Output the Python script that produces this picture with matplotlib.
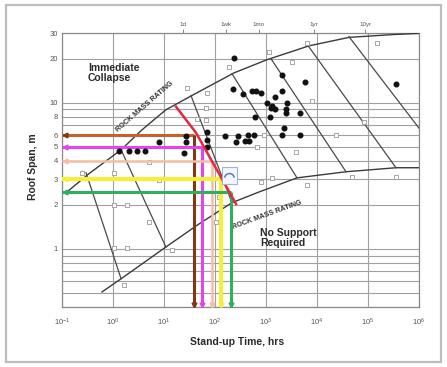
import matplotlib
matplotlib.use("Agg")
import matplotlib.pyplot as plt
from matplotlib.patches import Rectangle, Arc

plt.rcParams['font.family'] = ['Liberation Sans', 'DejaVu Sans']
plt.rcParams['mathtext.default'] = 'regular'

# ---------------- data (stand-up time in hours, roof span in m) ----------------
upper_t = [0.120, 0.338, 1.44, 3.71, 10.9, 38.7, 236, 1047, 6970, 42400, 324000, 1000000]
upper_s = [2.42, 3.27, 4.76, 6.53, 8.95, 11.4, 16.0, 19.7, 24.5, 28.0, 29.3, 29.8]

lower_t = [0.608, 1.44, 10.9, 48.5, 215, 730, 4055, 37070, 354000, 1000000]
lower_s = [0.507, 0.624, 1.03, 1.48, 2.07, 2.45, 3.06, 3.37, 3.59, 3.59]

# RMR contour lines: (start time, start span, end time, end span)
rmr_t0 = [0.296, 1.44, 33.8, 215, 1253, 6660, 42400]
rmr_s0 = [3.32, 4.76, 11.2, 15.8, 20.0, 24.6, 28.3]
rmr_t1 = [1.44, 10.9, 215, 4055, 37070, 354000, 1000000]
rmr_s1 = [0.624, 1.03, 2.07, 3.06, 3.37, 3.59, 6.7]

red_t = [17.2, 42.4, 258]
red_s = [9.39, 6.23, 2.03]

guide_span = [6.0, 5.0, 4.0, 3.0, 2.44]
guide_time = [38.7, 55.6, 87.3, 131, 206]
guide_hcol = ['#c4622c', '#e244ee', '#f6bca6', '#f3f03a', '#2fae5c']
guide_vcol = ['#7e3a18', '#e244ee', '#f6bca6', '#f3f03a', '#2fae5c']
guide_lw = [2.2, 2.2, 1.8, 3.0, 2.2]

dots_t = [236, 2060, 5820, 354000, 225, 354, 531, 637, 798, 1500, 2060, 1047, 1312,
          1253, 1500, 2581, 2466, 2466, 4645, 609, 1197, 2254, 157, 282, 444, 582,
          2060, 4645, 258, 387, 464, 69.7, 69.7, 69.7, 27, 27, 8, 1.31, 2.06, 2.96,
          4.24, 24.7]
dots_s = [20.3, 15.6, 13.9, 13.5, 12.5, 11.5, 12.1, 12.1, 11.7, 11.0, 12.1, 10.0, 9.5,
          9.2, 9.1, 10.0, 9.1, 8.5, 8.5, 8.0, 8.0, 6.7, 5.9, 5.9, 6.0, 6.0,
          6.0, 6.0, 5.4, 5.5, 5.5, 6.3, 5.6, 5.0, 5.9, 5.4, 5.4, 4.7, 4.7, 4.7,
          4.7, 4.5]

box_t = [150000, 6370, 1145, 3235, 7980, 83500, 23600, 914, 666, 3875, 188, 69.7,
         66.6, 66.6, 44.4, 28.2, 798, 1312, 6370, 0.247, 1.05, 1.05, 1.88, 5.08,
         5.08, 1.05, 1.88, 14.3, 1.64, 354000, 48600, 105, 120, 7.98]
box_s = [25.8, 25.8, 22.4, 19.1, 10.2, 7.41, 6.04, 6.04, 5.0, 4.62, 17.6, 11.7,
         9.25, 7.65, 7.77, 12.7, 2.88, 3.06, 2.74, 3.32, 3.32, 2.0, 2.0, 3.94,
         1.53, 1.02, 1.02, 0.98, 0.567, 3.11, 3.11, 1.53, 2.27, 2.97]

x_ticks = [1e-1, 1e0, 1e1, 1e2, 1e3, 1e4, 1e5, 1e6]
x_ticklabels = ['$10^{-1}$', '$10^{0}$', '$10^{1}$', '$10^{2}$', '$10^{3}$',
                '$10^{4}$', '$10^{5}$', '$10^{6}$']
y_ticks = [1, 2, 3, 4, 5, 6, 8, 10, 20, 30]
y_ticklabels = ['1', '2', '3', '4', '5', '6', '8', '10', '20', '30']
y_grid = [0.4, 0.5, 0.6, 0.7, 0.8, 0.9, 1, 2, 3, 4, 5, 6, 7, 8, 9, 10, 20, 30]
top_ticks = [24, 168, 720, 8760, 87600]
top_labels = ['1d', '1wk', '1mo', '1yr', '10yr']

# ---------------- figure ----------------
fig = plt.figure(figsize=(4.47, 3.67), dpi=100)
fig.patches.append(Rectangle((6 / 447, 5 / 367), 435 / 447, 357 / 367,
                             transform=fig.transFigure, fill=False,
                             edgecolor='#bdbdbd', lw=1.6))
ax = fig.add_axes([62 / 447, 1 - 307 / 367, 357 / 447, 274 / 367])
ax.set_xscale('log')
ax.set_yscale('log')
ax.set_xlim(0.1, 1e6)
ax.set_ylim(0.4, 30)

for g in y_grid:
    ax.axhline(g, color='#a0a0a0', lw=0.8, zorder=1)
for t in x_ticks:
    ax.axvline(t, color='#a0a0a0', lw=0.8, zorder=1)

ax.set_xticks(x_ticks)
ax.set_xticklabels(x_ticklabels)
ax.set_yticks(y_ticks)
ax.set_yticklabels(y_ticklabels)
ax.minorticks_off()
ax.tick_params(axis='x', length=0, pad=7, labelsize=5.5, labelcolor='#555555')
ax.tick_params(axis='y', length=0, pad=3, labelsize=5.5, labelcolor='#555555')
for sp in ax.spines.values():
    sp.set_color('#8a8a8a')
    sp.set_linewidth(0.9)

sec = ax.secondary_xaxis('top')
sec.set_xticks(top_ticks)
sec.set_xticklabels(top_labels)
sec.minorticks_off()
sec.tick_params(length=3, width=0.6, color='#777777', pad=1.5, labelsize=4.5,
                labelcolor='#555555')
sec.spines['top'].set_visible(False)

# boundary curves
ax.plot(upper_t, upper_s, color='#3a3a3a', lw=1.0, zorder=3)
ax.plot(lower_t, lower_s, color='#3a3a3a', lw=1.0, zorder=3)
for t0, s0, t1, s1 in zip(rmr_t0, rmr_s0, rmr_t1, rmr_s1):
    ax.plot([t0, t1], [s0, s1], color='#4a4a4a', lw=0.9, zorder=3)

# case-history markers
ax.scatter(box_t, box_s, marker='s', s=10, facecolor='white', edgecolor='#9a9a9a',
           lw=0.6, zorder=4)
ax.scatter(dots_t, dots_s, marker='o', s=11, color='#111111', zorder=6)

# colored guide lines
for sp_, tm, hc, vc, lw in zip(guide_span, guide_time, guide_hcol, guide_vcol, guide_lw):
    ax.plot([0.1, tm], [sp_, sp_], color=hc, lw=lw, zorder=5, solid_capstyle='butt')
    ax.plot([tm, tm], [sp_, 0.4], color=vc, lw=lw, zorder=5, solid_capstyle='butt')
    ax.plot([0.112], [sp_], marker='<', color=vc, ms=3.5, zorder=7)
    ax.plot([tm], [0.415], marker='v', color=vc, ms=3.5, zorder=7)

ax.plot(red_t, red_s, color='#e3283f', lw=1.8, zorder=6)

# little icon box
ax.add_patch(Rectangle((0.448, 0.449), 0.042, 0.062, transform=ax.transAxes,
                       facecolor='#f4f6fb', edgecolor='#9fb3d6', lw=0.8, zorder=7))
ax.add_patch(Arc((0.469, 0.472), 0.026, 0.03, theta1=0, theta2=180,
                 transform=ax.transAxes, color='#4a6fb0', lw=1.0, zorder=8))

# annotations
ax.text(0.073, 0.892, 'Immediate\nCollapse', transform=ax.transAxes, ha='left',
        va='top', fontsize=7.5, fontweight='bold', color='#2a2a2a', linespacing=1.05)
ax.text(0.555, 0.288, 'No Support\nRequired', transform=ax.transAxes, ha='left',
        va='top', fontsize=7.5, fontweight='bold', color='#2a2a2a', linespacing=1.05)
ax.text(0.2325, 0.73, 'ROCK MASS RATING', transform=ax.transAxes, rotation=41,
        ha='center', va='center', fontsize=5.2, fontweight='bold', color='#333333')
ax.text(0.574, 0.336, 'ROCK MASS RATING', transform=ax.transAxes, rotation=20,
        ha='center', va='center', fontsize=5.2, fontweight='bold', color='#333333')

fig.text(33 / 447, 1 - 167 / 367, 'Roof Span, m', rotation=90, ha='center',
         va='center', fontsize=7.5, fontweight='bold', color='#2a2a2a')
fig.text(237 / 447, 1 - 342 / 367, 'Stand-up Time, hrs', ha='center', va='center',
         fontsize=7.5, fontweight='bold', color='#2a2a2a')

fig.savefig('out.png', dpi=100)
